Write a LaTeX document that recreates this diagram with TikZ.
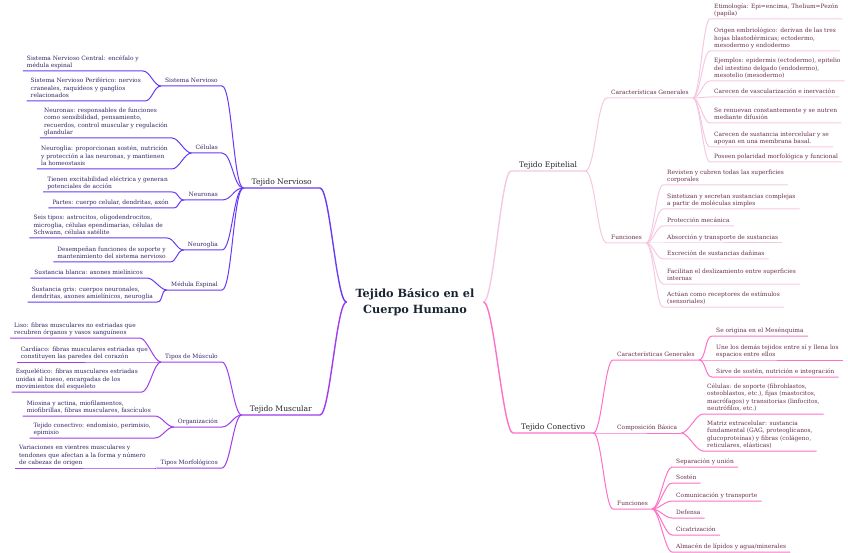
\documentclass[tikz,border=0pt]{standalone}
\usepackage{fontspec}
\setmainfont{DejaVu Serif}
\usetikzlibrary{positioning,calc}
\definecolor{nerv}{RGB}{104,58,245}
\definecolor{musc}{RGB}{160,60,235}
\definecolor{epit}{RGB}{245,200,226}
\definecolor{conec}{RGB}{255,112,200}
\definecolor{inkL}{RGB}{52,36,100}
\definecolor{inkR}{RGB}{104,46,78}
\definecolor{inkT}{RGB}{36,36,44}
\definecolor{inkC}{RGB}{24,36,52}
\def\leaffont{\fontsize{5.9}{7.4}\selectfont}
\tikzset{leafL/.style={anchor=south east,align=left,inner xsep=4pt,inner ysep=1pt,text=inkL,font=\leaffont,execute at end node=\strut}}
\tikzset{leafR/.style={leafL,anchor=south west,text=inkR}}
\tikzset{topL/.style={anchor=south east,inner xsep=8pt,inner ysep=1pt,text=inkT,font=\fontsize{7.6}{8.5}\selectfont,execute at end node=\strut}}
\tikzset{topR/.style={topL,anchor=south west}}
\tikzset{nervln/.style={draw=nerv,line width=1pt},muscln/.style={draw=musc,line width=1pt}}
\tikzset{epitln/.style={draw=epit,line width=1pt},conln/.style={draw=conec,line width=1pt}}

\begin{document}
\begin{tikzpicture}[x=1pt,y=-1pt]
\useasboundingbox (0,0) rectangle (848,553);
% centro
\node[font=\fontsize{11.3}{15.5}\selectfont\bfseries,text=inkC,align=center,inner xsep=9pt] (root) at (415,302) {Tejido Básico en el\\Cuerpo Humano};

% lado izquierdo
\node[topL] (nervioso) at (320,188) {Tejido Nervioso};
\node[topL] (muscular) at (320,415) {Tejido Muscular};

\node[leafL] (sisnerv) at (222,86) {Sistema Nervioso};
\node[leafL] (celulas) at (222,153) {Células};
\node[leafL] (neuronas) at (222,200) {Neuronas};
\node[leafL] (neuroglia) at (222,250) {Neuroglia};
\node[leafL] (medula) at (222,290) {Médula Espinal};

\node[leafL] (n1) at (143,71) {Sistema Nervioso Central: encéfalo y\\médula espinal};
\node[leafL] (n2) at (145,101) {Sistema Nervioso Periférico: nervios\\craneales, raquídeos y ganglios\\relacionados};
\node[leafL] (n3) at (172,138) {Neuronas: responsables de funciones\\como sensibilidad, pensamiento,\\recuerdos, control muscular y regulación\\glandular};
\node[leafL] (n4) at (172,169) {Neuroglia: proporcionan sostén, nutrición\\y protección a las neuronas, y mantienen\\la homeostasis};
\node[leafL] (n5) at (172,192) {Tienen excitabilidad eléctrica y generan\\potenciales de acción};
\node[leafL] (n6) at (173,208) {Partes: cuerpo celular, dendritas, axón};
\node[leafL] (n7) at (167,238) {Seis tipos: astrocitos, oligodendrocitos,\\microglia, células ependimarias, células de\\Schwann, células satélite};
\node[leafL] (n8) at (170,262) {Desempeñan funciones de soporte y\\mantenimiento del sistema nervioso};
\node[leafL] (n9) at (147,278) {Sustancia blanca: axones mielínicos};
\node[leafL] (n10) at (157,302) {Sustancia gris: cuerpos neuronales,\\dendritas, axones amielínicos, neuroglia};

\node[leafL] (tipos) at (222,362) {Tipos de Músculo};
\node[leafL] (organiz) at (222,427) {Organización};
\node[leafL] (morfo) at (222,468) {Tipos Morfológicos};

\node[leafL] (m1) at (140,338) {Liso: fibras musculares no estriadas que\\recubren órganos y vasos sanguíneos};
\node[leafL] (m2) at (152,362) {Cardíaco: fibras musculares estriadas que\\constituyen las paredes del corazón};
\node[leafL] (m3) at (142,392) {Esquelético: fibras musculares estriadas\\unidas al hueso, encargadas de los\\movimientos del esqueleto};
\node[leafL] (m4) at (155,416) {Miosina y actina, miofilamentos,\\miofibrillas, fibras musculares, fascículos};
\node[leafL] (m5) at (155,438) {Tejido conectivo: endomisio, perimisio,\\epimisio};
\node[leafL] (m6) at (150,468) {Variaciones en vientres musculares y\\tendones que afectan a la forma y número\\de cabezas de origen};

% lado derecho
\node[topR] (epitelial) at (511,171) {Tejido Epitelial};
\node[topR] (conectivo) at (513,433) {Tejido Conectivo};

\node[leafR] (cgepi) at (607,98) {Características Generales};
\node[leafR] (funepi) at (607,243) {Funciones};
\node[leafR] (cgcon) at (613,360) {Características Generales};
\node[leafR] (compcon) at (613,433) {Composición Básica};
\node[leafR] (funcon) at (613,509) {Funciones};

\node[leafR] (e1) at (710,19) {Etimología: Epi=encima, Thelium=Pezón\\(papila)};
\node[leafR] (e2) at (710,51) {Origen embriológico: derivan de las tres\\hojas blastodérmicas; ectodermo,\\mesodermo y endodermo};
\node[leafR] (e3) at (710,81) {Ejemplos: epidermis (ectodermo), epitelio\\del intestino delgado (endodermo),\\mesotelio (mesodermo)};
\node[leafR] (e4) at (710,97) {Carecen de vascularización e inervación};
\node[leafR] (e5) at (710,123) {Se renuevan constantemente y se nutren\\mediante difusión};
\node[leafR] (e6) at (710,147) {Carecen de sustancia intercelular y se\\apoyan en una membrana basal.};
\node[leafR] (e7) at (710,162) {Poseen polaridad morfológica y funcional};

\node[leafR] (f1) at (663,185) {Revisten y cubren todas las superficies\\corporales};
\node[leafR] (f2) at (663,209) {Sintetizan y secretan sustancias complejas\\a partir de moléculas simples};
\node[leafR] (f3) at (663,226) {Protección mecánica};
\node[leafR] (f4) at (663,243) {Absorción y transporte de sustancias};
\node[leafR] (f5) at (663,259) {Excreción de sustancias dañinas};
\node[leafR] (f6) at (663,284) {Facilitan el deslizamiento entre superficies\\internas};
\node[leafR] (f7) at (663,307) {Actúan como receptores de estímulos\\(sensoriales)};

\node[leafR] (c1) at (712,336) {Se origina en el Mesénquima};
\node[leafR] (c2) at (712,360) {Une los demás tejidos entre sí y llena los\\espacios entre ellos};
\node[leafR] (c3) at (712,377) {Sirve de sostén, nutrición e integración};
\node[leafR] (b1) at (703,414) {Células: de soporte (fibroblastos,\\osteoblastos, etc.), fijas (mastocitos,\\macrófagos) y transitorias (linfocitos,\\neutrófilos, etc.)};
\node[leafR] (b2) at (703,451) {Matriz extracelular: sustancia\\fundamental (GAG, proteoglicanos,\\glucoproteínas) y fibras (colágeno,\\reticulares, elásticas)};
\node[leafR] (g1) at (672,467) {Separación y unión};
\node[leafR] (g2) at (672,483) {Sostén};
\node[leafR] (g3) at (672,501) {Comunicación y transporte};
\node[leafR] (g4) at (672,518) {Defensa};
\node[leafR] (g5) at (672,535) {Cicatrización};
\node[leafR] (g6) at (672,552) {Almacén de lípidos y agua/minerales};

% ramas
\draw[nervln,line width=1.4pt] (root.west) .. controls +(-10,0) and +(10,0) .. (nervioso.south east) -- (nervioso.south west);
\draw[muscln,line width=1.4pt] (root.west) .. controls +(-10,0) and +(10,0) .. (muscular.south east) -- (muscular.south west);
\draw[epitln,line width=1.4pt] (root.east) .. controls +(10,0) and +(-10,0) .. (epitelial.south west) -- (epitelial.south east);
\draw[conln,line width=1.4pt] (root.east) .. controls +(10,0) and +(-10,0) .. (conectivo.south west) -- (conectivo.south east);

\foreach \n in {sisnerv,celulas,neuronas,neuroglia,medula}
  \draw[nervln] (nervioso.south west) .. controls +(-10,0) and +(10,0) .. (\n.south east) -- (\n.south west);
\foreach \n in {tipos,organiz,morfo}
  \draw[muscln] (muscular.south west) .. controls +(-8,0) and +(8,0) .. (\n.south east) -- (\n.south west);
\foreach \n in {cgepi,funepi}
  \draw[epitln] (epitelial.south east) .. controls +(10,0) and +(-10,0) .. (\n.south west) -- (\n.south east);
\foreach \n in {cgcon,compcon,funcon}
  \draw[conln] (conectivo.south east) .. controls +(8,0) and +(-8,0) .. (\n.south west) -- (\n.south east);

\foreach \p/\n in {sisnerv/n1,sisnerv/n2,celulas/n3,celulas/n4,neuronas/n5,neuronas/n6,neuroglia/n7,neuroglia/n8,medula/n9,medula/n10}
  \draw[nervln] (\p.south west) .. controls +(-7,0) and +(7,0) .. (\n.south east) -- (\n.south west);
\foreach \p/\n in {tipos/m1,tipos/m2,tipos/m3,organiz/m4,organiz/m5,morfo/m6}
  \draw[muscln] (\p.south west) .. controls +(-7,0) and +(7,0) .. (\n.south east) -- (\n.south west);
\foreach \n in {e1,e2,e3,e4,e5,e6,e7}
  \draw[epitln] (cgepi.south east) .. controls +(7,0) and +(-7,0) .. (\n.south west) -- (\n.south east);
\foreach \n in {f1,f2,f3,f4,f5,f6,f7}
  \draw[epitln] (funepi.south east) .. controls +(7,0) and +(-7,0) .. (\n.south west) -- (\n.south east);
\foreach \p/\n in {cgcon/c1,cgcon/c2,cgcon/c3,compcon/b1,compcon/b2,funcon/g1,funcon/g2,funcon/g3,funcon/g4,funcon/g5,funcon/g6}
  \draw[conln] (\p.south east) .. controls +(7,0) and +(-7,0) .. (\n.south west) -- (\n.south east);
\end{tikzpicture}
\end{document}
